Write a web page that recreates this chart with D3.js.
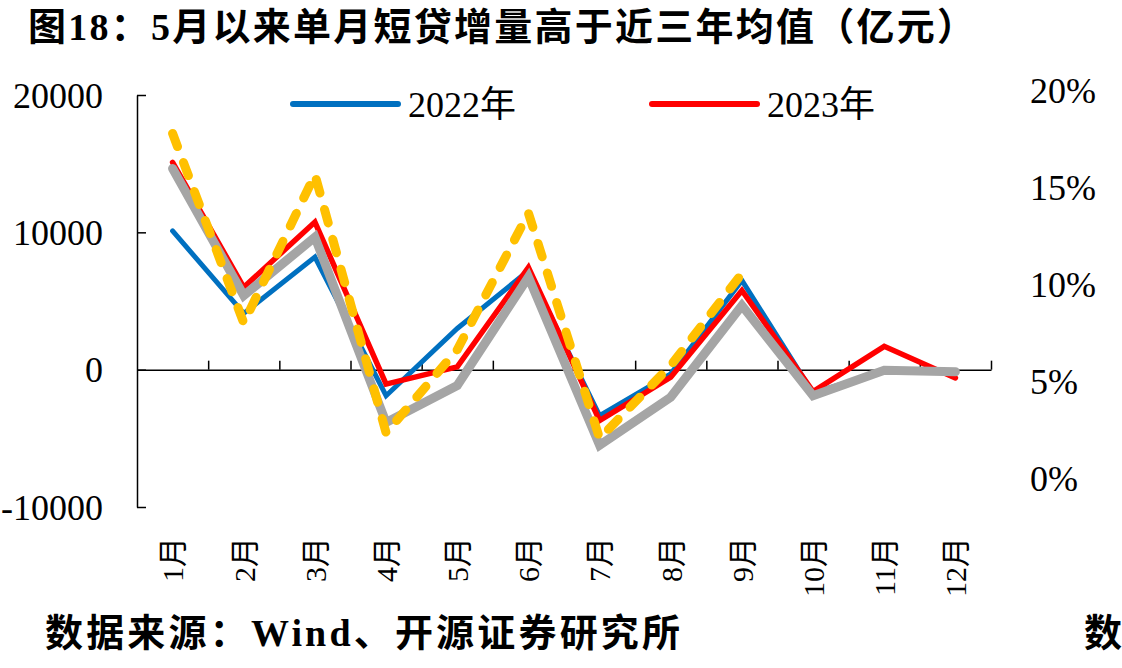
<!DOCTYPE html>
<meta charset="utf-8">
<script src="https://d3js.org/d3.v7.min.js"></script>
<style>
    body { margin: 0; background: #fff; }
    svg { display: block; }
    text { fill: #000; }
</style>
<body>
<script>
    var months = ["1月", "2月", "3月", "4月", "5月", "6月", "7月", "8月", "9月", "10月", "11月", "12月"];
    var v2022 = [10100, 4100, 8200, -1900, 3000, 7200, -3350, -300, 6500, -1700, -100, -200];
    var v2023 = [15100, 6000, 10750, -1050, 200, 7450, -3700, -550, 5770, -1600, 1700, -600];
    var avg3y = [14650, 5400, 9650, -3850, -1150, 6750, -5500, -2000, 4670, -1900, -50, -150];
    var vDash = [17200, 3400, 14200, -4600, 1450, 11400, -5000, 300, 7000];
    var leftTicks = [-10000, 0, 10000, 20000];
    var rightTicks = [0, 0.05, 0.10, 0.15, 0.20];

    var W = 1122, H = 668,
        serif = "'Liberation Serif', 'Times New Roman', 'Noto Sans CJK SC', serif",
        boldFont = "'Liberation Serif', 'Noto Sans CJK SC', serif";

    var svg = d3.select("body").append("svg").attr("width", W).attr("height", H);

    // title + footer
    svg.append("text").attr("x", 28).attr("y", 40)
        .attr("font-family", boldFont).attr("font-weight", "bold").attr("font-size", 38)
        .attr("textLength", 947).attr("lengthAdjust", "spacing")
        .text("图18：5月以来单月短贷增量高于近三年均值（亿元）");
    svg.append("text").attr("x", 45).attr("y", 646)
        .attr("font-family", boldFont).attr("font-weight", "bold").attr("font-size", 38)
        .attr("textLength", 635).attr("lengthAdjust", "spacing")
        .text("数据来源：Wind、开源证券研究所");
    svg.append("text").attr("x", 1084).attr("y", 646)
        .attr("font-family", boldFont).attr("font-weight", "bold").attr("font-size", 38)
        .text("数");

    var x0 = 137, x1 = 991;
    var x = d3.scaleBand().domain(months).range([x0, x1]);
    var xEdge = d3.scaleLinear().domain([0, 12]).range([x0, x1]);
    var y = d3.scaleLinear().domain([-10000, 20000]).range([507, 95]);
    var y2 = d3.scaleLinear().domain([0, 0.2]).range([478, 90]);

    // left axis, ticks pointing inward
    var gy = svg.append("g").attr("transform", "translate(" + x0 + ",0)")
        .call(d3.axisLeft(y).tickValues(leftTicks).tickSizeInner(-9).tickSizeOuter(0)
            .tickPadding(34).tickFormat(function(d) { return String(d); }));
    gy.selectAll("text").attr("font-family", serif).attr("font-size", 36).attr("dy", "0.34em");
    gy.selectAll("path, line").attr("stroke", "#000").attr("stroke-width", 1.5);

    // category axis on the zero line, ticks at band edges pointing up
    var gx = svg.append("g").attr("transform", "translate(0," + y(0) + ")")
        .call(d3.axisTop(xEdge).tickValues(d3.range(1, 13)).tickSize(9).tickSizeOuter(0).tickFormat(""));
    gx.selectAll("path, line").attr("stroke", "#000").attr("stroke-width", 1.5);

    svg.append("g").selectAll("text").data(months).enter().append("text")
        .attr("transform", function(d) { return "translate(" + (x(d) + x.bandwidth() / 2) + ",537) rotate(-90)"; })
        .attr("text-anchor", "end").attr("dy", "0.36em")
        .attr("font-family", serif).attr("font-size", 30)
        .text(function(d) { return d; });

    // right axis: labels only
    var gr = svg.append("g").attr("transform", "translate(1030,0)")
        .call(d3.axisRight(y2).tickValues(rightTicks).tickSize(0).tickPadding(0).tickFormat(d3.format(".0%")));
    gr.select(".domain").remove();
    gr.selectAll("text").attr("font-family", serif).attr("font-size", 36).attr("dy", "0.34em");

    var line = d3.line()
        .x(function(d, i) { return x(months[i]) + x.bandwidth() / 2; })
        .y(function(d) { return y(d); });

    function drawLine(data, color, width, dash) {
        var p = svg.append("path").datum(data).attr("d", line)
            .attr("fill", "none").attr("stroke", color).attr("stroke-width", width)
            .attr("stroke-linecap", "round").attr("stroke-linejoin", "miter");
        if (dash) p.attr("stroke-dasharray", dash);
        return p;
    }
    drawLine(v2022, "#0070C0", 5);
    drawLine(v2023, "#FF0000", 5.5);
    drawLine(avg3y, "#A5A5A5", 9);
    drawLine(vDash, "#FFC000", 9, "14,17");

    // legend
    var legend = [["2022年", "#0070C0", 293], ["2023年", "#FF0000", 652]];
    legend.forEach(function(l) {
        svg.append("line").attr("x1", l[2]).attr("x2", l[2] + 105).attr("y1", 104).attr("y2", 104)
            .attr("stroke", l[1]).attr("stroke-width", 6).attr("stroke-linecap", "round");
        svg.append("text").attr("x", l[2] + 115).attr("y", 117)
            .attr("font-family", serif).attr("font-size", 36).text(l[0]);
    });
</script>
</body>
